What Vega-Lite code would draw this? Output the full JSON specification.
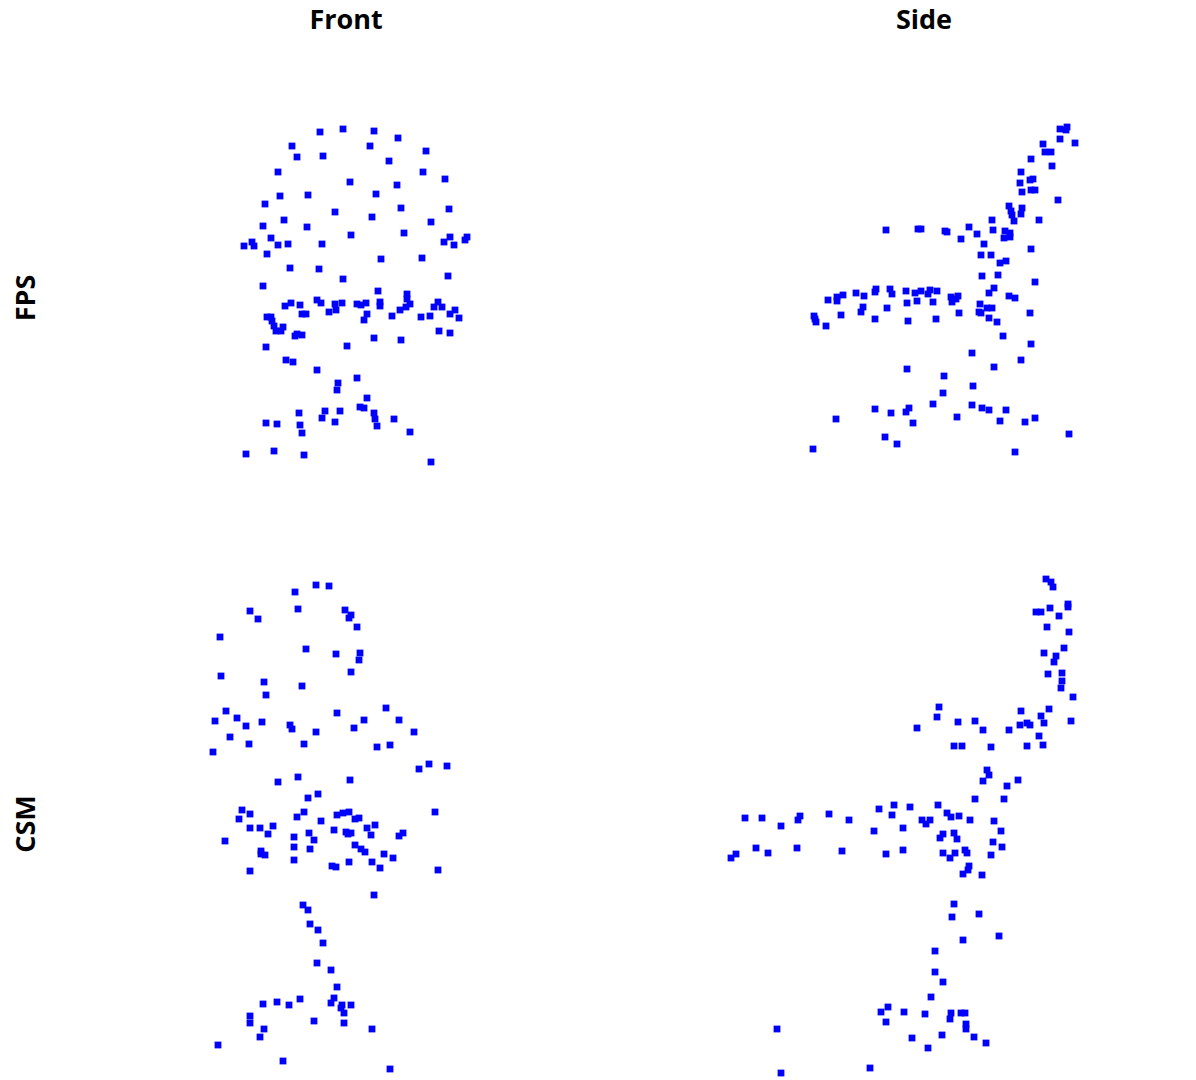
{"$schema":"https://vega.github.io/schema/vega-lite/v6.json","background":"white","padding":{"left":13,"top":7,"right":5,"bottom":0},"data":{"values":[
{"view":"Front","method":"FPS","x":224,"y":416},{"view":"Front","method":"FPS","x":247,"y":419},{"view":"Front","method":"FPS","x":278,"y":417},{"view":"Front","method":"FPS","x":302,"y":410},{"view":"Front","method":"FPS","x":196,"y":402},{"view":"Front","method":"FPS","x":274,"y":402},{"view":"Front","method":"FPS","x":201,"y":391},{"view":"Front","method":"FPS","x":227,"y":392},{"view":"Front","method":"FPS","x":330,"y":397},{"view":"Front","method":"FPS","x":293,"y":387},{"view":"Front","method":"FPS","x":182,"y":376},{"view":"Front","method":"FPS","x":327,"y":376},{"view":"Front","method":"FPS","x":349,"y":369},{"view":"Front","method":"FPS","x":254,"y":366},{"view":"Front","method":"FPS","x":301,"y":363},{"view":"Front","method":"FPS","x":184,"y":352},{"view":"Front","method":"FPS","x":212,"y":353},{"view":"Front","method":"FPS","x":280,"y":354},{"view":"Front","method":"FPS","x":169,"y":344},{"view":"Front","method":"FPS","x":239,"y":336},{"view":"Front","method":"FPS","x":305,"y":340},{"view":"Front","method":"FPS","x":353,"y":339},{"view":"Front","method":"FPS","x":276,"y":331},{"view":"Front","method":"FPS","x":335,"y":326},{"view":"Front","method":"FPS","x":188,"y":328},{"view":"Front","method":"FPS","x":167,"y":322},{"view":"Front","method":"FPS","x":211,"y":321},{"view":"Front","method":"FPS","x":308,"y":315},{"view":"Front","method":"FPS","x":255,"y":313},{"view":"Front","method":"FPS","x":175,"y":310},{"view":"Front","method":"FPS","x":156,"y":306},{"view":"Front","method":"FPS","x":148,"y":302},{"view":"Front","method":"FPS","x":158,"y":302},{"view":"Front","method":"FPS","x":182,"y":303},{"view":"Front","method":"FPS","x":192,"y":304},{"view":"Front","method":"FPS","x":226,"y":304},{"view":"Front","method":"FPS","x":348,"y":306},{"view":"Front","method":"FPS","x":354,"y":311},{"view":"Front","method":"FPS","x":358,"y":303},{"view":"Front","method":"FPS","x":369,"y":308},{"view":"Front","method":"FPS","x":371,"y":311},{"view":"Front","method":"FPS","x":171,"y":294},{"view":"Front","method":"FPS","x":285,"y":289},{"view":"Front","method":"FPS","x":326,"y":290},{"view":"Front","method":"FPS","x":194,"y":280},{"view":"Front","method":"FPS","x":223,"y":279},{"view":"Front","method":"FPS","x":352,"y":272},{"view":"Front","method":"FPS","x":247,"y":269},{"view":"Front","method":"FPS","x":167,"y":262},{"view":"Front","method":"FPS","x":282,"y":257},{"view":"Front","method":"FPS","x":311,"y":254},{"view":"Front","method":"FPS","x":284,"y":246},{"view":"Front","method":"FPS","x":284,"y":242},{"view":"Front","method":"FPS","x":311,"y":249},{"view":"Front","method":"FPS","x":314,"y":244},{"view":"Front","method":"FPS","x":310,"y":241},{"view":"Front","method":"FPS","x":304,"y":238},{"view":"Front","method":"FPS","x":296,"y":232},{"view":"Front","method":"FPS","x":325,"y":231},{"view":"Front","method":"FPS","x":334,"y":232},{"view":"Front","method":"FPS","x":342,"y":246},{"view":"Front","method":"FPS","x":338,"y":241},{"view":"Front","method":"FPS","x":346,"y":241},{"view":"Front","method":"FPS","x":354,"y":234},{"view":"Front","method":"FPS","x":359,"y":238},{"view":"Front","method":"FPS","x":363,"y":230},{"view":"Front","method":"FPS","x":343,"y":217},{"view":"Front","method":"FPS","x":354,"y":215},{"view":"Front","method":"FPS","x":305,"y":208},{"view":"Front","method":"FPS","x":278,"y":210},{"view":"Front","method":"FPS","x":251,"y":202},{"view":"Front","method":"FPS","x":268,"y":228},{"view":"Front","method":"FPS","x":271,"y":234},{"view":"Front","method":"FPS","x":261,"y":244},{"view":"Front","method":"FPS","x":265,"y":243},{"view":"Front","method":"FPS","x":270,"y":245},{"view":"Front","method":"FPS","x":246,"y":245},{"view":"Front","method":"FPS","x":239,"y":244},{"view":"Front","method":"FPS","x":240,"y":238},{"view":"Front","method":"FPS","x":233,"y":236},{"view":"Front","method":"FPS","x":221,"y":248},{"view":"Front","method":"FPS","x":225,"y":245},{"view":"Front","method":"FPS","x":204,"y":243},{"view":"Front","method":"FPS","x":195,"y":245},{"view":"Front","method":"FPS","x":189,"y":242},{"view":"Front","method":"FPS","x":206,"y":234},{"view":"Front","method":"FPS","x":210,"y":234},{"view":"Front","method":"FPS","x":171,"y":231},{"view":"Front","method":"FPS","x":175,"y":231},{"view":"Front","method":"FPS","x":176,"y":227},{"view":"Front","method":"FPS","x":178,"y":222},{"view":"Front","method":"FPS","x":180,"y":217},{"view":"Front","method":"FPS","x":185,"y":217},{"view":"Front","method":"FPS","x":187,"y":221},{"view":"Front","method":"FPS","x":199,"y":212},{"view":"Front","method":"FPS","x":201,"y":214},{"view":"Front","method":"FPS","x":206,"y":213},{"view":"Front","method":"FPS","x":170,"y":201},{"view":"Front","method":"FPS","x":190,"y":188},{"view":"Front","method":"FPS","x":197,"y":186},{"view":"Front","method":"FPS","x":221,"y":178},{"view":"Front","method":"FPS","x":261,"y":170},{"view":"Front","method":"FPS","x":242,"y":165},{"view":"Front","method":"FPS","x":241,"y":158},{"view":"Front","method":"FPS","x":271,"y":150},{"view":"Front","method":"FPS","x":264,"y":141},{"view":"Front","method":"FPS","x":268,"y":140},{"view":"Front","method":"FPS","x":278,"y":135},{"view":"Front","method":"FPS","x":279,"y":129},{"view":"Front","method":"FPS","x":281,"y":122},{"view":"Front","method":"FPS","x":298,"y":129},{"view":"Front","method":"FPS","x":314,"y":116},{"view":"Front","method":"FPS","x":203,"y":135},{"view":"Front","method":"FPS","x":229,"y":137},{"view":"Front","method":"FPS","x":244,"y":137},{"view":"Front","method":"FPS","x":226,"y":130},{"view":"Front","method":"FPS","x":239,"y":126},{"view":"Front","method":"FPS","x":170,"y":125},{"view":"Front","method":"FPS","x":181,"y":124},{"view":"Front","method":"FPS","x":204,"y":123},{"view":"Front","method":"FPS","x":206,"y":115},{"view":"Front","method":"FPS","x":150,"y":94},{"view":"Front","method":"FPS","x":178,"y":97},{"view":"Front","method":"FPS","x":208,"y":93},{"view":"Front","method":"FPS","x":335,"y":86},
{"view":"Side","method":"FPS","x":386,"y":419},{"view":"Side","method":"FPS","x":393,"y":421},{"view":"Side","method":"FPS","x":392,"y":418},{"view":"Side","method":"FPS","x":386,"y":409},{"view":"Side","method":"FPS","x":401,"y":405},{"view":"Side","method":"FPS","x":369,"y":404},{"view":"Side","method":"FPS","x":371,"y":396},{"view":"Side","method":"FPS","x":377,"y":396},{"view":"Side","method":"FPS","x":357,"y":389},{"view":"Side","method":"FPS","x":378,"y":382},{"view":"Side","method":"FPS","x":347,"y":376},{"view":"Side","method":"FPS","x":359,"y":369},{"view":"Side","method":"FPS","x":356,"y":368},{"view":"Side","method":"FPS","x":346,"y":365},{"view":"Side","method":"FPS","x":348,"y":356},{"view":"Side","method":"FPS","x":357,"y":358},{"view":"Side","method":"FPS","x":361,"y":358},{"view":"Side","method":"FPS","x":384,"y":348},{"view":"Side","method":"FPS","x":335,"y":342},{"view":"Side","method":"FPS","x":348,"y":340},{"view":"Side","method":"FPS","x":337,"y":337},{"view":"Side","method":"FPS","x":338,"y":333},{"view":"Side","method":"FPS","x":347,"y":334},{"view":"Side","method":"FPS","x":340,"y":327},{"view":"Side","method":"FPS","x":318,"y":328},{"view":"Side","method":"FPS","x":365,"y":328},{"view":"Side","method":"FPS","x":212,"y":318},{"view":"Side","method":"FPS","x":244,"y":319},{"view":"Side","method":"FPS","x":247,"y":319},{"view":"Side","method":"FPS","x":271,"y":317},{"view":"Side","method":"FPS","x":273,"y":316},{"view":"Side","method":"FPS","x":295,"y":321},{"view":"Side","method":"FPS","x":303,"y":314},{"view":"Side","method":"FPS","x":287,"y":309},{"view":"Side","method":"FPS","x":319,"y":318},{"view":"Side","method":"FPS","x":331,"y":317},{"view":"Side","method":"FPS","x":336,"y":315},{"view":"Side","method":"FPS","x":330,"y":310},{"view":"Side","method":"FPS","x":336,"y":311},{"view":"Side","method":"FPS","x":310,"y":304},{"view":"Side","method":"FPS","x":357,"y":299},{"view":"Side","method":"FPS","x":307,"y":293},{"view":"Side","method":"FPS","x":317,"y":293},{"view":"Side","method":"FPS","x":332,"y":287},{"view":"Side","method":"FPS","x":326,"y":285},{"view":"Side","method":"FPS","x":308,"y":272},{"view":"Side","method":"FPS","x":324,"y":273},{"view":"Side","method":"FPS","x":361,"y":266},{"view":"Side","method":"FPS","x":320,"y":260},{"view":"Side","method":"FPS","x":315,"y":255},{"view":"Side","method":"FPS","x":335,"y":252},{"view":"Side","method":"FPS","x":341,"y":250},{"view":"Side","method":"FPS","x":154,"y":248},{"view":"Side","method":"FPS","x":163,"y":251},{"view":"Side","method":"FPS","x":163,"y":247},{"view":"Side","method":"FPS","x":169,"y":253},{"view":"Side","method":"FPS","x":182,"y":255},{"view":"Side","method":"FPS","x":190,"y":252},{"view":"Side","method":"FPS","x":202,"y":259},{"view":"Side","method":"FPS","x":201,"y":256},{"view":"Side","method":"FPS","x":216,"y":259},{"view":"Side","method":"FPS","x":218,"y":254},{"view":"Side","method":"FPS","x":232,"y":257},{"view":"Side","method":"FPS","x":241,"y":255},{"view":"Side","method":"FPS","x":247,"y":257},{"view":"Side","method":"FPS","x":254,"y":254},{"view":"Side","method":"FPS","x":256,"y":258},{"view":"Side","method":"FPS","x":263,"y":257},{"view":"Side","method":"FPS","x":277,"y":251},{"view":"Side","method":"FPS","x":284,"y":252},{"view":"Side","method":"FPS","x":282,"y":249},{"view":"Side","method":"FPS","x":278,"y":246},{"view":"Side","method":"FPS","x":233,"y":245},{"view":"Side","method":"FPS","x":243,"y":247},{"view":"Side","method":"FPS","x":259,"y":246},{"view":"Side","method":"FPS","x":189,"y":241},{"view":"Side","method":"FPS","x":187,"y":236},{"view":"Side","method":"FPS","x":213,"y":240},{"view":"Side","method":"FPS","x":306,"y":244},{"view":"Side","method":"FPS","x":313,"y":240},{"view":"Side","method":"FPS","x":318,"y":240},{"view":"Side","method":"FPS","x":305,"y":236},{"view":"Side","method":"FPS","x":307,"y":235},{"view":"Side","method":"FPS","x":285,"y":235},{"view":"Side","method":"FPS","x":356,"y":235},{"view":"Side","method":"FPS","x":315,"y":230},{"view":"Side","method":"FPS","x":323,"y":226},{"view":"Side","method":"FPS","x":262,"y":229},{"view":"Side","method":"FPS","x":234,"y":227},{"view":"Side","method":"FPS","x":201,"y":229},{"view":"Side","method":"FPS","x":167,"y":233},{"view":"Side","method":"FPS","x":140,"y":232},{"view":"Side","method":"FPS","x":141,"y":229},{"view":"Side","method":"FPS","x":142,"y":226},{"view":"Side","method":"FPS","x":152,"y":222},{"view":"Side","method":"FPS","x":329,"y":212},{"view":"Side","method":"FPS","x":357,"y":204},{"view":"Side","method":"FPS","x":298,"y":195},{"view":"Side","method":"FPS","x":347,"y":188},{"view":"Side","method":"FPS","x":320,"y":181},{"view":"Side","method":"FPS","x":233,"y":179},{"view":"Side","method":"FPS","x":270,"y":172},{"view":"Side","method":"FPS","x":299,"y":162},{"view":"Side","method":"FPS","x":269,"y":155},{"view":"Side","method":"FPS","x":259,"y":144},{"view":"Side","method":"FPS","x":298,"y":143},{"view":"Side","method":"FPS","x":308,"y":140},{"view":"Side","method":"FPS","x":315,"y":138},{"view":"Side","method":"FPS","x":332,"y":138},{"view":"Side","method":"FPS","x":201,"y":139},{"view":"Side","method":"FPS","x":217,"y":135},{"view":"Side","method":"FPS","x":235,"y":140},{"view":"Side","method":"FPS","x":232,"y":136},{"view":"Side","method":"FPS","x":283,"y":131},{"view":"Side","method":"FPS","x":361,"y":130},{"view":"Side","method":"FPS","x":351,"y":126},{"view":"Side","method":"FPS","x":326,"y":127},{"view":"Side","method":"FPS","x":239,"y":125},{"view":"Side","method":"FPS","x":162,"y":129},{"view":"Side","method":"FPS","x":395,"y":114},{"view":"Side","method":"FPS","x":211,"y":111},{"view":"Side","method":"FPS","x":223,"y":104},{"view":"Side","method":"FPS","x":139,"y":99},{"view":"Side","method":"FPS","x":341,"y":96},
{"view":"Front","method":"CSM","x":220,"y":489},{"view":"Front","method":"CSM","x":233,"y":488},{"view":"Front","method":"CSM","x":199,"y":482},{"view":"Front","method":"CSM","x":154,"y":463},{"view":"Front","method":"CSM","x":162,"y":455},{"view":"Front","method":"CSM","x":202,"y":465},{"view":"Front","method":"CSM","x":249,"y":464},{"view":"Front","method":"CSM","x":255,"y":459},{"view":"Front","method":"CSM","x":253,"y":456},{"view":"Front","method":"CSM","x":261,"y":447},{"view":"Front","method":"CSM","x":124,"y":437},{"view":"Front","method":"CSM","x":210,"y":425},{"view":"Front","method":"CSM","x":240,"y":420},{"view":"Front","method":"CSM","x":264,"y":421},{"view":"Front","method":"CSM","x":263,"y":414},{"view":"Front","method":"CSM","x":255,"y":402},{"view":"Front","method":"CSM","x":125,"y":398},{"view":"Front","method":"CSM","x":168,"y":392},{"view":"Front","method":"CSM","x":206,"y":388},{"view":"Front","method":"CSM","x":170,"y":379},{"view":"Front","method":"CSM","x":130,"y":363},{"view":"Front","method":"CSM","x":290,"y":366},{"view":"Front","method":"CSM","x":241,"y":361},{"view":"Front","method":"CSM","x":303,"y":354},{"view":"Front","method":"CSM","x":119,"y":353},{"view":"Front","method":"CSM","x":141,"y":356},{"view":"Front","method":"CSM","x":150,"y":348},{"view":"Front","method":"CSM","x":166,"y":352},{"view":"Front","method":"CSM","x":194,"y":349},{"view":"Front","method":"CSM","x":196,"y":345},{"view":"Front","method":"CSM","x":268,"y":354},{"view":"Front","method":"CSM","x":258,"y":346},{"view":"Front","method":"CSM","x":220,"y":342},{"view":"Front","method":"CSM","x":318,"y":342},{"view":"Front","method":"CSM","x":134,"y":337},{"view":"Front","method":"CSM","x":153,"y":330},{"view":"Front","method":"CSM","x":208,"y":330},{"view":"Front","method":"CSM","x":281,"y":327},{"view":"Front","method":"CSM","x":294,"y":329},{"view":"Front","method":"CSM","x":117,"y":322},{"view":"Front","method":"CSM","x":323,"y":305},{"view":"Front","method":"CSM","x":333,"y":310},{"view":"Front","method":"CSM","x":351,"y":308},{"view":"Front","method":"CSM","x":182,"y":292},{"view":"Front","method":"CSM","x":202,"y":297},{"view":"Front","method":"CSM","x":254,"y":294},{"view":"Front","method":"CSM","x":212,"y":276},{"view":"Front","method":"CSM","x":222,"y":280},{"view":"Front","method":"CSM","x":146,"y":264},{"view":"Front","method":"CSM","x":154,"y":260},{"view":"Front","method":"CSM","x":143,"y":255},{"view":"Front","method":"CSM","x":208,"y":262},{"view":"Front","method":"CSM","x":201,"y":257},{"view":"Front","method":"CSM","x":241,"y":259},{"view":"Front","method":"CSM","x":247,"y":261},{"view":"Front","method":"CSM","x":253,"y":262},{"view":"Front","method":"CSM","x":259,"y":255},{"view":"Front","method":"CSM","x":263,"y":256},{"view":"Front","method":"CSM","x":225,"y":253},{"view":"Front","method":"CSM","x":339,"y":262},{"view":"Front","method":"CSM","x":154,"y":246},{"view":"Front","method":"CSM","x":164,"y":246},{"view":"Front","method":"CSM","x":177,"y":248},{"view":"Front","method":"CSM","x":172,"y":240},{"view":"Front","method":"CSM","x":129,"y":233},{"view":"Front","method":"CSM","x":198,"y":237},{"view":"Front","method":"CSM","x":213,"y":241},{"view":"Front","method":"CSM","x":218,"y":234},{"view":"Front","method":"CSM","x":238,"y":244},{"view":"Front","method":"CSM","x":250,"y":242},{"view":"Front","method":"CSM","x":255,"y":241},{"view":"Front","method":"CSM","x":252,"y":240},{"view":"Front","method":"CSM","x":271,"y":246},{"view":"Front","method":"CSM","x":279,"y":249},{"view":"Front","method":"CSM","x":275,"y":239},{"view":"Front","method":"CSM","x":307,"y":241},{"view":"Front","method":"CSM","x":303,"y":238},{"view":"Front","method":"CSM","x":198,"y":227},{"view":"Front","method":"CSM","x":214,"y":225},{"view":"Front","method":"CSM","x":259,"y":229},{"view":"Front","method":"CSM","x":265,"y":225},{"view":"Front","method":"CSM","x":269,"y":222},{"view":"Front","method":"CSM","x":288,"y":220},{"view":"Front","method":"CSM","x":297,"y":216},{"view":"Front","method":"CSM","x":165,"y":223},{"view":"Front","method":"CSM","x":165,"y":220},{"view":"Front","method":"CSM","x":169,"y":219},{"view":"Front","method":"CSM","x":198,"y":214},{"view":"Front","method":"CSM","x":253,"y":212},{"view":"Front","method":"CSM","x":276,"y":212},{"view":"Front","method":"CSM","x":236,"y":208},{"view":"Front","method":"CSM","x":240,"y":207},{"view":"Front","method":"CSM","x":284,"y":206},{"view":"Front","method":"CSM","x":154,"y":203},{"view":"Front","method":"CSM","x":342,"y":204},{"view":"Front","method":"CSM","x":278,"y":179},{"view":"Front","method":"CSM","x":207,"y":169},{"view":"Front","method":"CSM","x":212,"y":164},{"view":"Front","method":"CSM","x":214,"y":150},{"view":"Front","method":"CSM","x":222,"y":144},{"view":"Front","method":"CSM","x":227,"y":131},{"view":"Front","method":"CSM","x":221,"y":111},{"view":"Front","method":"CSM","x":235,"y":104},{"view":"Front","method":"CSM","x":241,"y":87},{"view":"Front","method":"CSM","x":238,"y":76},{"view":"Front","method":"CSM","x":235,"y":71},{"view":"Front","method":"CSM","x":167,"y":70},{"view":"Front","method":"CSM","x":181,"y":72},{"view":"Front","method":"CSM","x":193,"y":69},{"view":"Front","method":"CSM","x":204,"y":75},{"view":"Front","method":"CSM","x":246,"y":69},{"view":"Front","method":"CSM","x":255,"y":69},{"view":"Front","method":"CSM","x":245,"y":66},{"view":"Front","method":"CSM","x":248,"y":61},{"view":"Front","method":"CSM","x":154,"y":58},{"view":"Front","method":"CSM","x":154,"y":51},{"view":"Front","method":"CSM","x":218,"y":53},{"view":"Front","method":"CSM","x":248,"y":51},{"view":"Front","method":"CSM","x":168,"y":45},{"view":"Front","method":"CSM","x":276,"y":45},{"view":"Front","method":"CSM","x":164,"y":37},{"view":"Front","method":"CSM","x":122,"y":29},{"view":"Front","method":"CSM","x":187,"y":13},{"view":"Front","method":"CSM","x":294,"y":5},
{"view":"Side","method":"CSM","x":372,"y":495},{"view":"Side","method":"CSM","x":377,"y":492},{"view":"Side","method":"CSM","x":379,"y":487},{"view":"Side","method":"CSM","x":394,"y":470},{"view":"Side","method":"CSM","x":394,"y":467},{"view":"Side","method":"CSM","x":376,"y":466},{"view":"Side","method":"CSM","x":362,"y":462},{"view":"Side","method":"CSM","x":367,"y":462},{"view":"Side","method":"CSM","x":385,"y":458},{"view":"Side","method":"CSM","x":373,"y":447},{"view":"Side","method":"CSM","x":395,"y":442},{"view":"Side","method":"CSM","x":390,"y":426},{"view":"Side","method":"CSM","x":370,"y":421},{"view":"Side","method":"CSM","x":382,"y":418},{"view":"Side","method":"CSM","x":380,"y":412},{"view":"Side","method":"CSM","x":374,"y":400},{"view":"Side","method":"CSM","x":388,"y":401},{"view":"Side","method":"CSM","x":388,"y":393},{"view":"Side","method":"CSM","x":387,"y":386},{"view":"Side","method":"CSM","x":399,"y":377},{"view":"Side","method":"CSM","x":265,"y":367},{"view":"Side","method":"CSM","x":347,"y":363},{"view":"Side","method":"CSM","x":375,"y":365},{"view":"Side","method":"CSM","x":263,"y":357},{"view":"Side","method":"CSM","x":367,"y":358},{"view":"Side","method":"CSM","x":397,"y":353},{"view":"Side","method":"CSM","x":370,"y":351},{"view":"Side","method":"CSM","x":284,"y":352},{"view":"Side","method":"CSM","x":301,"y":353},{"view":"Side","method":"CSM","x":243,"y":346},{"view":"Side","method":"CSM","x":309,"y":344},{"view":"Side","method":"CSM","x":335,"y":344},{"view":"Side","method":"CSM","x":346,"y":349},{"view":"Side","method":"CSM","x":353,"y":351},{"view":"Side","method":"CSM","x":356,"y":349},{"view":"Side","method":"CSM","x":365,"y":338},{"view":"Side","method":"CSM","x":369,"y":329},{"view":"Side","method":"CSM","x":353,"y":328},{"view":"Side","method":"CSM","x":280,"y":328},{"view":"Side","method":"CSM","x":288,"y":328},{"view":"Side","method":"CSM","x":317,"y":327},{"view":"Side","method":"CSM","x":313,"y":304},{"view":"Side","method":"CSM","x":315,"y":299},{"view":"Side","method":"CSM","x":309,"y":293},{"view":"Side","method":"CSM","x":344,"y":294},{"view":"Side","method":"CSM","x":333,"y":288},{"view":"Side","method":"CSM","x":301,"y":275},{"view":"Side","method":"CSM","x":330,"y":275},{"view":"Side","method":"CSM","x":264,"y":269},{"view":"Side","method":"CSM","x":205,"y":265},{"view":"Side","method":"CSM","x":220,"y":269},{"view":"Side","method":"CSM","x":236,"y":267},{"view":"Side","method":"CSM","x":273,"y":261},{"view":"Side","method":"CSM","x":277,"y":257},{"view":"Side","method":"CSM","x":285,"y":258},{"view":"Side","method":"CSM","x":296,"y":254},{"view":"Side","method":"CSM","x":71,"y":256},{"view":"Side","method":"CSM","x":88,"y":256},{"view":"Side","method":"CSM","x":126,"y":258},{"view":"Side","method":"CSM","x":124,"y":254},{"view":"Side","method":"CSM","x":155,"y":260},{"view":"Side","method":"CSM","x":175,"y":254},{"view":"Side","method":"CSM","x":107,"y":248},{"view":"Side","method":"CSM","x":218,"y":259},{"view":"Side","method":"CSM","x":248,"y":254},{"view":"Side","method":"CSM","x":256,"y":254},{"view":"Side","method":"CSM","x":252,"y":250},{"view":"Side","method":"CSM","x":320,"y":253},{"view":"Side","method":"CSM","x":229,"y":246},{"view":"Side","method":"CSM","x":200,"y":243},{"view":"Side","method":"CSM","x":327,"y":243},{"view":"Side","method":"CSM","x":269,"y":240},{"view":"Side","method":"CSM","x":266,"y":236},{"view":"Side","method":"CSM","x":280,"y":241},{"view":"Side","method":"CSM","x":283,"y":235},{"view":"Side","method":"CSM","x":319,"y":232},{"view":"Side","method":"CSM","x":328,"y":227},{"view":"Side","method":"CSM","x":82,"y":226},{"view":"Side","method":"CSM","x":123,"y":226},{"view":"Side","method":"CSM","x":62,"y":220},{"view":"Side","method":"CSM","x":57,"y":216},{"view":"Side","method":"CSM","x":94,"y":221},{"view":"Side","method":"CSM","x":168,"y":223},{"view":"Side","method":"CSM","x":212,"y":220},{"view":"Side","method":"CSM","x":229,"y":224},{"view":"Side","method":"CSM","x":269,"y":221},{"view":"Side","method":"CSM","x":276,"y":216},{"view":"Side","method":"CSM","x":281,"y":221},{"view":"Side","method":"CSM","x":291,"y":224},{"view":"Side","method":"CSM","x":293,"y":221},{"view":"Side","method":"CSM","x":317,"y":219},{"view":"Side","method":"CSM","x":295,"y":208},{"view":"Side","method":"CSM","x":294,"y":204},{"view":"Side","method":"CSM","x":289,"y":200},{"view":"Side","method":"CSM","x":308,"y":199},{"view":"Side","method":"CSM","x":280,"y":170},{"view":"Side","method":"CSM","x":305,"y":160},{"view":"Side","method":"CSM","x":278,"y":157},{"view":"Side","method":"CSM","x":325,"y":138},{"view":"Side","method":"CSM","x":289,"y":134},{"view":"Side","method":"CSM","x":261,"y":123},{"view":"Side","method":"CSM","x":261,"y":102},{"view":"Side","method":"CSM","x":269,"y":92},{"view":"Side","method":"CSM","x":257,"y":77},{"view":"Side","method":"CSM","x":214,"y":67},{"view":"Side","method":"CSM","x":207,"y":62},{"view":"Side","method":"CSM","x":212,"y":52},{"view":"Side","method":"CSM","x":230,"y":62},{"view":"Side","method":"CSM","x":251,"y":60},{"view":"Side","method":"CSM","x":277,"y":61},{"view":"Side","method":"CSM","x":287,"y":61},{"view":"Side","method":"CSM","x":291,"y":61},{"view":"Side","method":"CSM","x":276,"y":55},{"view":"Side","method":"CSM","x":292,"y":50},{"view":"Side","method":"CSM","x":292,"y":45},{"view":"Side","method":"CSM","x":268,"y":39},{"view":"Side","method":"CSM","x":238,"y":36},{"view":"Side","method":"CSM","x":300,"y":37},{"view":"Side","method":"CSM","x":254,"y":26},{"view":"Side","method":"CSM","x":312,"y":31},{"view":"Side","method":"CSM","x":103,"y":45},{"view":"Side","method":"CSM","x":107,"y":1},{"view":"Side","method":"CSM","x":196,"y":6}
]},
"facet":{"row":{"field":"method","type":"nominal","sort":["FPS","CSM"],"title":null,"header":{"labelAngle":-90,"labelOrient":"left","labelFont":"Open Sans","labelFontWeight":700,"labelFontSize":27,"labelColor":"#000000","labelPadding":42,"labelAlign":"center","labelBaseline":"middle"}},"column":{"field":"view","type":"nominal","sort":["Front","Side"],"title":null,"header":{"labelOrient":"top","labelFont":"Open Sans","labelFontWeight":700,"labelFontSize":27,"labelColor":"#000000","labelPadding":13}}},
"spacing":{"row":23,"column":78},
"spec":{"width":500,"height":500,"view":{"stroke":null},"mark":{"type":"square","size":46,"filled":true,"color":"#0000ff","opacity":1,"clip":false},"encoding":{"x":{"field":"x","type":"quantitative","scale":{"domain":[0,500],"nice":false,"zero":false},"axis":null},"y":{"field":"y","type":"quantitative","scale":{"domain":[0,500],"nice":false,"zero":false},"axis":null}}},
"config":{"view":{"stroke":null}}}
